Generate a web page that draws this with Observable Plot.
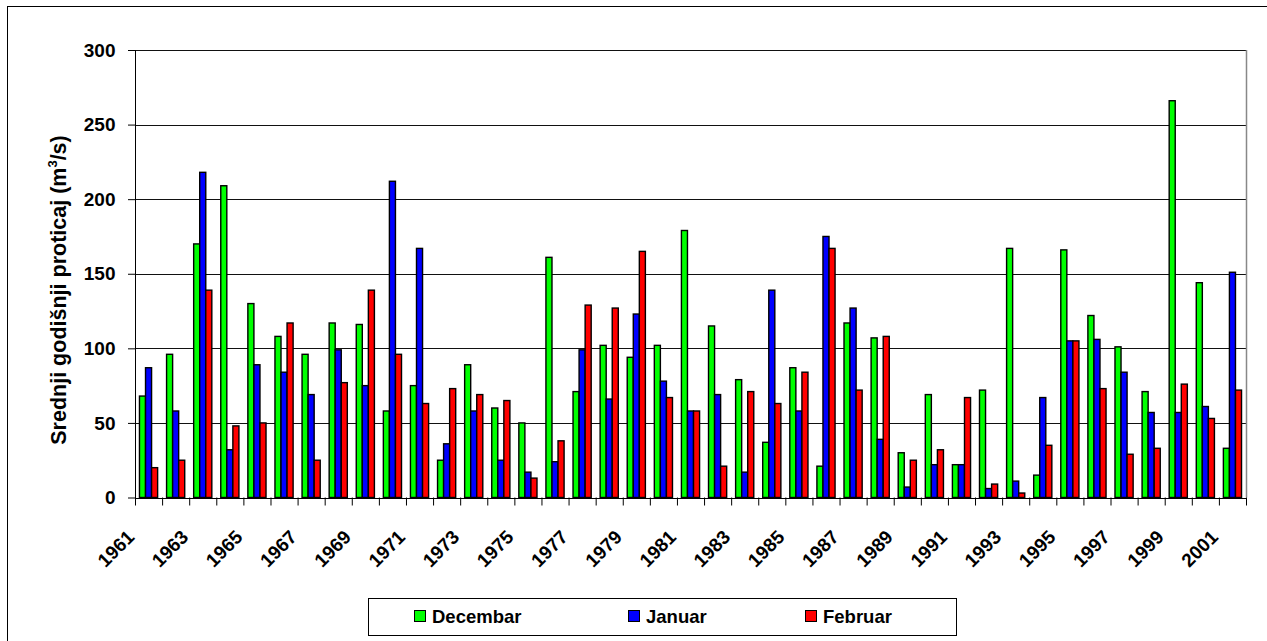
<!DOCTYPE html>
<html>
<head>
<meta charset="utf-8">
<script src="https://cdn.jsdelivr.net/npm/d3@7"></script>
<script src="https://cdn.jsdelivr.net/npm/@observablehq/plot@0.6"></script>
<style>
  html, body { margin: 0; padding: 0; background: #fff; overflow: hidden; }
  #wrap { position: relative; width: 1267px; height: 641px; font-family: "Liberation Sans", Arial, sans-serif; }
  #frame { position: absolute; left: 7px; top: 6px; width: 1300px; height: 700px; border-left: 1.5px solid #000; border-top: 1.5px solid #000; box-sizing: border-box; }
  #chart { position: absolute; left: 0; top: 0; }
  #ytitle { position: absolute; left: 59px; top: 290px; transform: translate(-50%, -50%) rotate(-90deg); white-space: nowrap; font-weight: bold; font-size: 21.5px; line-height: 26px; }
  #ytitle sup { font-size: 13px; vertical-align: 9px; line-height: 0; }
  #legend { position: absolute; left: 368px; top: 598px; width: 589px; height: 38px; border: 1px solid #000; box-sizing: border-box; }
  .item { position: absolute; top: 8px; font-weight: bold; font-size: 18.5px; line-height: 20px; white-space: nowrap; }
  .sw { display: inline-block; width: 10px; height: 10px; border: 1px solid #000; margin-right: 6px; vertical-align: 1px; }
</style>
</head>
<body>
<div id="wrap">
  <div id="frame"></div>
  <div id="chart"></div>
  <div id="ytitle">Srednji godišnji proticaj (m<sup>3</sup>/s)</div>
  <div id="legend"></div>
</div>
<script>
const years = d3.range(1961, 2002);
const seriesNames = ["Decembar", "Januar", "Februar"];
const seriesColors = ["#00FF00", "#0000FF", "#FF0000"];
const decembar = [68, 96, 170, 209, 130, 108, 96, 117, 116, 58,
                  75, 25, 89, 60, 50, 161, 71, 102, 94, 102,
                  179, 115, 79, 37, 87, 21, 117, 107, 30, 69,
                  22, 72, 167, 15, 166, 122, 101, 71, 266, 144, 33];
const januar =   [87, 58, 218, 32, 89, 84, 69, 99, 75, 212,
                  167, 36, 58, 25, 17, 24, 99, 66, 123, 78,
                  58, 69, 17, 139, 58, 175, 127, 39, 7, 22,
                  22, 6, 11, 67, 105, 106, 84, 57, 57, 61, 151];
const februar =  [20, 25, 139, 48, 50, 117, 25, 77, 139, 96,
                  63, 73, 69, 65, 13, 38, 129, 127, 165, 67,
                  58, 21, 71, 63, 84, 167, 72, 108, 25, 32,
                  67, 9, 3, 35, 105, 73, 29, 33, 76, 53, 72];
const yTicks = [0, 50, 100, 150, 200, 250, 300];
const xLabelYears = years.filter((y, i) => i % 2 === 0);

const seriesValues = [decembar, januar, februar];
const data = [];
years.forEach((yr, i) => {
  seriesNames.forEach((s, k) => data.push({year: yr, k, series: s, value: seriesValues[k][i]}));
});

const gap = 0.33;            // share of a category left empty
const bw = (1 - gap) / 3;    // share of a category per bar
const boundaries = d3.range(1960.5, 2002, 1);

const W = 1267, H = 592;
const chart = Plot.plot({
  width: W,
  height: H,
  marginLeft: 135,
  marginRight: 21,
  marginTop: 50,
  marginBottom: H - 497.5,
  style: {fontFamily: '"Liberation Sans", Arial, sans-serif', background: "transparent", overflow: "visible"},
  x: {domain: [1960.5, 2001.5]},
  y: {domain: [0, 300]},
  color: {domain: seriesNames, range: seriesColors},
  marks: [
    Plot.ruleY(yTicks.filter(v => v > 0), {stroke: "#111", strokeWidth: 1, shapeRendering: "crispEdges"}),
    Plot.ruleX([2001.5], {stroke: "#888", strokeWidth: 1.5}),
    Plot.rectY(data, {
      x1: d => d.year - 0.5 + gap / 2 + d.k * bw,
      x2: d => d.year - 0.5 + gap / 2 + (d.k + 1) * bw,
      y1: 0,
      y2: "value",
      fill: "series",
      stroke: "#000",
      strokeWidth: 1.4
    }),
    Plot.ruleY([0], {stroke: "#000", strokeWidth: 1, shapeRendering: "crispEdges"}),
    Plot.ruleX([1960.5], {stroke: "#000", strokeWidth: 1, shapeRendering: "crispEdges"}),
    Plot.axisY({ticks: yTicks, tickSize: 7, tickPadding: 13, fontSize: 19, fontWeight: "bold", label: null, stroke: "#000", fill: "#000"}),
    Plot.axisX({ticks: boundaries, tickSize: 8, tickFormat: () => "", label: null, stroke: "#000"}),
    Plot.text(xLabelYears, {
      x: d => d, y: 0, text: d => String(d),
      rotate: -45, textAnchor: "end", lineAnchor: "middle",
      dx: -18, dy: 36, fontSize: 19, fontWeight: "bold", fill: "#000"
    })
  ]
});
document.getElementById("chart").appendChild(chart);

const legend = document.getElementById("legend");
const lefts = [45, 259, 436];
seriesNames.forEach((s, k) => {
  const it = document.createElement("div");
  it.className = "item";
  it.style.left = lefts[k] + "px";
  it.innerHTML = `<span class="sw" style="background:${seriesColors[k]}"></span>${s}`;
  legend.appendChild(it);
});
</script>
</body>
</html>
